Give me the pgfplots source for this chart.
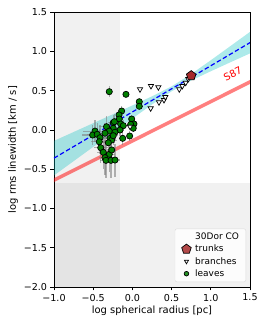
\documentclass[border=0pt]{standalone}
\usepackage{fontspec}
\setmainfont{DejaVu Sans}
\usepackage{pgfplots}
\pgfplotsset{compat=1.18}
\definecolor{bandc}{RGB}{0,191,191}
\definecolor{trunkc}{RGB}{165,42,42}
\definecolor{leafc}{RGB}{0,128,0}
\begin{document}
\fontsize{10}{12}\selectfont
\begin{tikzpicture}
\begin{axis}[
  scale only axis,
  width=196bp, height=275bp,
  at={(54bp,39bp)}, anchor=south west,
  xmin=-1, xmax=1.5, ymin=-2, ymax=1.5,
  xtick={-1,-0.5,0,0.5,1,1.5},
  xticklabels={−1.0,−0.5,0.0,0.5,1.0,1.5},
  ytick={-2,-1.5,-1,-0.5,0,0.5,1,1.5},
  yticklabels={−2.0,−1.5,−1.0,−0.5,0.0,0.5,1.0,1.5},
  tick label style={font=\fontsize{9.6}{11}\selectfont},
  label style={font=\fontsize{10}{12}\selectfont},
  tick align=outside, tick pos=left,
  major tick length=3.5bp,
  tick style={black, line width=0.6bp},
  axis line style={line width=0.6bp},
  xlabel={log spherical radius [pc]},
  ylabel={log rms linewidth [km / s]},
  xlabel style={yshift=2bp},
  ylabel style={yshift=-1bp},
  clip=true,
  axis on top=false,
  legend cell align=left,
  legend style={at={(axis description cs:0.98,0.018)}, anchor=south east,
    font=\fontsize{9}{10.5}\selectfont, draw=black!15, rounded corners=2bp,
    fill=white, fill opacity=0.85, text opacity=1, row sep=0pt,
    inner xsep=3bp, inner ysep=2bp,
    nodes={inner xsep=4bp}},
]
% grey excluded regions
\addplot[draw=none, fill=black, fill opacity=0.055, forget plot] coordinates {(-1,-2) (-0.16,-2) (-0.16,1.5) (-1,1.5)} -- cycle;
\addplot[draw=none, fill=black, fill opacity=0.055, forget plot] coordinates {(-1,-2) (1.5,-2) (1.5,-0.67) (-1,-0.67)} -- cycle;
% confidence band
\addplot[draw=none, fill=bandc, fill opacity=0.32, forget plot] coordinates {
(-1,-0.14) (-0.5,0.085) (0,0.311) (0.25,0.427) (0.5,0.553) (0.75,0.710) (1.0,0.886) (1.25,1.066) (1.5,1.247)
(1.5,0.973) (1.25,0.860) (1.0,0.746) (0.75,0.628) (0.5,0.491) (0.25,0.323) (0,0.145) (-0.5,-0.217) (-1,-0.58)} -- cycle;
% S87
\addplot[red, draw opacity=0.5, line width=3.5bp, forget plot] coordinates {(-1.1,-0.69) (1.6,0.66)};
% fit
\addplot[blue, line width=1.2bp, dash pattern=on 4.5bp off 2.5bp, forget plot] coordinates {(-1,-0.36) (1.5,1.11)};
% legend header
\addlegendimage{empty legend}
\addlegendentry{30Dor CO}
% leaves with errors
\addplot[forget plot, only marks, mark=*, mark size=3.1bp, mark options={fill=leafc, draw=black, line width=0.7bp},
  error bars/.cd, x dir=both, x explicit, y dir=both, y explicit,
  error bar style={black!50, line width=1.1bp, opacity=0.6}, error mark=none]
  table[x=x, y=y, x error=ex, y error=ey] {
x y ex ey
-0.295 0.486 0.04 0.07
-0.082 0.452 0.03 0.04
0.088 0.358 0.02 0.03
0.088 0.300 0.02 0.03
-0.137 0.24 0.04 0.06
-0.17 0.19 0.04 0.06
-0.009 0.138 0.03 0.05
0.02 0.075 0.03 0.05
-0.035 -0.078 0.03 0.06
-0.124 -0.108 0.04 0.08
-0.244 0.09 0.07 0.10
-0.167 0.138 0.05 0.08
-0.23 0.104 0.06 0.10
-0.15 0.075 0.05 0.08
-0.116 0.053 0.04 0.07
-0.158 -0.002 0.05 0.08
-0.244 0.02 0.07 0.10
-0.33 0.04 0.10 0.14
-0.295 -0.016 0.08 0.12
-0.022 0.07 0.03 0.05
0.011 0.02 0.03 0.05
-0.222 -0.03 0.06 0.10
-0.477 -0.016 0.15 0.14
-0.507 -0.066 0.13 0.13
-0.448 -0.057 0.13 0.14
-0.413 -0.1 0.12 0.16
-0.422 -0.151 0.10 0.16
-0.35 -0.043 0.10 0.13
-0.286 -0.108 0.08 0.14
-0.264 -0.13 0.07 0.14
-0.307 -0.164 0.08 0.16
-0.244 -0.074 0.06 0.12
-0.404 -0.227 0.09 0.19
-0.371 -0.286 0.08 0.21
-0.295 -0.311 0.07 0.22
-0.35 -0.354 0.08 0.22
-0.337 -0.388 0.07 0.23
-0.273 -0.388 0.07 0.23
-0.222 -0.384 0.06 0.21
-0.264 -0.256 0.06 0.17
};
% branches
\addplot[only marks, mark=triangle*, mark size=3bp, mark options={rotate=180, fill=white, draw=black, line width=0.7bp}, forget plot] coordinates {
(0.097,0.516) (0.237,0.558) (0.331,0.542) (0.233,0.274) (0.339,0.351) (0.403,0.380) (0.42,0.418)
(0.598,0.516) (0.637,0.558) (0.68,0.60) (0.713,0.647) (-0.03,0.04)};
% trunk
\addplot[only marks, mark=pentagon*, mark size=5bp, mark options={fill=trunkc, draw=black, line width=0.7bp}, forget plot] coordinates {(0.75,0.69)};
% legend images
\addlegendimage{only marks, mark=pentagon*, mark size=5bp, mark options={fill=trunkc, draw=black, line width=0.7bp}}
\addlegendentry{trunks}
\addlegendimage{only marks, mark=triangle*, mark size=2.4bp, mark options={rotate=180, fill=white, draw=black, line width=0.7bp}}
\addlegendentry{branches}
\addlegendimage{only marks, mark=*, mark size=2.3bp, mark options={fill=leafc, draw=black, line width=0.7bp}}
\addlegendentry{leaves}
% S87 label
\node[red, rotate=26.6, font=\fontsize{10}{12}\selectfont, inner sep=0pt] at (axis cs:1.28,0.71) {S87};
\end{axis}
\pgfresetboundingbox
\path[use as bounding box] (0,0) rectangle (266bp,326bp);
\end{tikzpicture}
\end{document}
